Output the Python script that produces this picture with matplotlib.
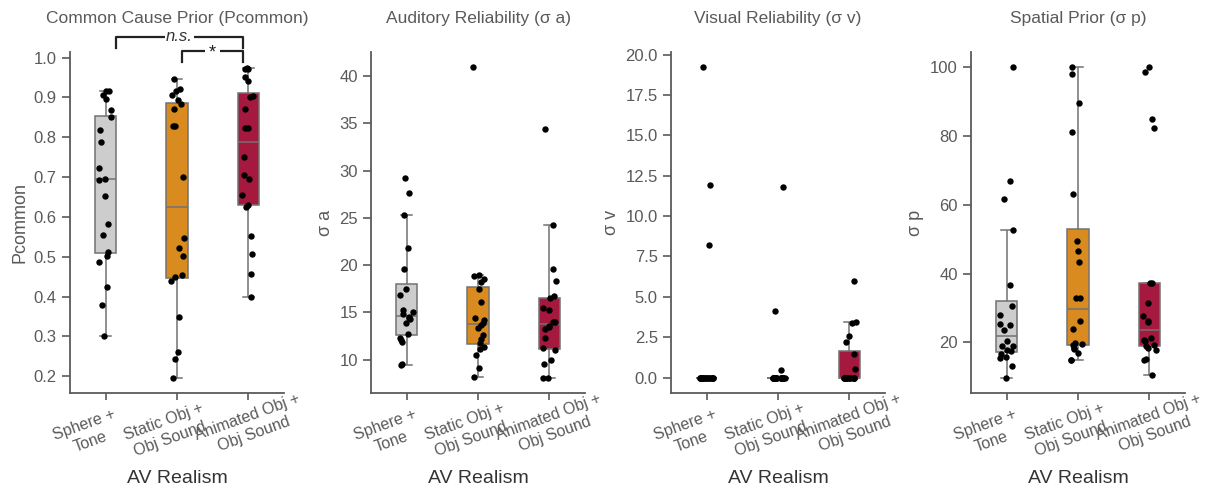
import numpy as np
import pandas as pd
import matplotlib

matplotlib.use("Agg")
import matplotlib.pyplot as plt
import matplotlib.transforms as mtransforms
import seaborn as sns

plt.rcParams["font.family"] = ["Liberation Sans", "DejaVu Sans"]

# ---------------------------------------------------------------- data
CONDITIONS = ["Sphere +\nTone", "Static Obj +\nObj Sound", "Animated Obj +\nObj Sound"]
COLORS = ["#cdcdcd", "#d98b1f", "#a6193f"]

pcommon_sphere = [0.915, 0.915, 0.905, 0.896, 0.868, 0.85, 0.817, 0.787, 0.724, 0.695,
                  0.693, 0.653, 0.582, 0.555, 0.513, 0.503, 0.486, 0.423, 0.379, 0.30]
pcommon_static = [0.945, 0.921, 0.917, 0.905, 0.893, 0.884, 0.871, 0.827, 0.827, 0.701,
                  0.548, 0.522, 0.503, 0.455, 0.45, 0.44, 0.349, 0.262, 0.243, 0.197]
pcommon_animated = [0.975, 0.97, 0.97, 0.95, 0.94, 0.903, 0.90, 0.871, 0.823, 0.823,
                    0.751, 0.705, 0.694, 0.655, 0.63, 0.625, 0.553, 0.508, 0.458, 0.398]

sigma_a_sphere = [29.2, 27.6, 25.3, 21.8, 19.6, 17.5, 16.8, 15.25, 15.0, 14.8,
                  14.5, 14.4, 14.3, 13.9, 12.7, 12.3, 12.1, 11.9, 9.5, 9.4]
sigma_a_static = [40.9, 18.9, 18.8, 18.5, 18.2, 17.5, 16.1, 14.4, 14.2, 13.9,
                  13.7, 13.3, 12.6, 12.2, 11.8, 11.3, 11.1, 10.5, 9.1, 8.2]
sigma_a_animated = [34.4, 24.2, 19.6, 18.3, 16.7, 16.5, 15.5, 15.2, 14.0, 14.0,
                    13.6, 13.4, 13.2, 12.3, 11.2, 11.0, 10.0, 9.5, 8.1, 8.1]

sigma_v_sphere = [19.2, 11.9, 8.2] + [0.0] * 17
sigma_v_static = [11.8, 4.1, 0.45] + [0.0] * 17
sigma_v_animated = [6.0, 3.45, 3.4, 2.6, 2.2, 1.45, 0.5] + [0.0] * 13

sigma_p_sphere = [100, 67.0, 61.8, 52.7, 36.6, 30.5, 27.9, 25.3, 25.1, 23.7,
                  20.3, 19.1, 18.9, 17.9, 17.5, 16.5, 15.8, 15.4, 13.2, 9.8]
sigma_p_static = [100, 98.1, 89.8, 81.2, 63.3, 49.5, 46.5, 43.3, 32.9, 32.9,
                  26.3, 24.0, 19.7, 19.5, 19.4, 18.3, 18.0, 16.9, 15.0, 14.8]
sigma_p_animated = [100, 98.8, 85.1, 82.3, 37.3, 37.3, 31.5, 27.6, 26.3, 25.9,
                    21.2, 20.8, 20.5, 19.4, 19.0, 18.5, 17.9, 15.3, 15.0, 10.6]

PANELS = [
    ("Common Cause Prior (Pcommon)", "Pcommon",
     [pcommon_sphere, pcommon_static, pcommon_animated], np.arange(0.2, 1.01, 0.1), "{:.1f}"),
    ("Auditory Reliability (σ a)", "σ a",
     [sigma_a_sphere, sigma_a_static, sigma_a_animated], np.arange(10, 41, 5), "{:.0f}"),
    ("Visual Reliability (σ v)", "σ v",
     [sigma_v_sphere, sigma_v_static, sigma_v_animated], np.arange(0, 20.1, 2.5), "{:.1f}"),
    ("Spatial Prior (σ p)", "σ p",
     [sigma_p_sphere, sigma_p_static, sigma_p_animated], np.arange(20, 101, 20), "{:.0f}"),
]

GREY = "#5a5a5a"
LINE = "#727272"

# ---------------------------------------------------------------- figure
W, H = 1220, 491
fig = plt.figure(figsize=(W / 100, H / 100), dpi=100)
lefts = [70, 371, 671, 971]
np.random.seed(3)

for k, (title, ylabel, groups, yticks, fmt) in enumerate(PANELS):
    ax = fig.add_axes([lefts[k] / W, (H - 393) / H, 214 / W, 341 / H])
    df = pd.DataFrame({
        "cond": np.repeat(CONDITIONS, [len(g) for g in groups]),
        "val": np.concatenate(groups),
    })
    sns.boxplot(data=df, x="cond", y="val", hue="cond", order=CONDITIONS,
                palette=COLORS, width=0.3, showfliers=False, linewidth=1.1,
                linecolor=LINE, saturation=1, legend=False, ax=ax)
    sns.stripplot(data=df, x="cond", y="val", order=CONDITIONS, color="black",
                  size=4.6, jitter=0.1, ax=ax, zorder=5)

    ax.set_xlim(-0.5, 2.5)
    ax.set_yticks(yticks)
    ax.set_yticklabels([fmt.format(v) for v in yticks])
    for s in ("top", "right"):
        ax.spines[s].set_visible(False)
    for s in ("left", "bottom"):
        ax.spines[s].set_color(GREY)
        ax.spines[s].set_linewidth(1.3)
    ax.tick_params(colors=GREY, labelsize=12, length=6, width=1.2)
    ax.tick_params(axis="x", labelsize=11.5, length=5)

    ax.set_xticks(range(3))
    ax.set_xticklabels(CONDITIONS, rotation=20, ha="left", rotation_mode="anchor",
                       multialignment="center", linespacing=1.3)
    offset = mtransforms.ScaledTranslation(-0.55, -0.24, fig.dpi_scale_trans)
    for lab in ax.get_xticklabels():
        lab.set_transform(lab.get_transform() + offset)

    ax.set_title(title, fontsize=12.5, color=GREY, pad=21)
    ax.set_ylabel(ylabel, fontsize=13, color=GREY)
    ax.set_xlabel("AV Realism", fontsize=14, color="#333333")
    ax.xaxis.set_label_coords(0.5, -0.225)

    if k == 0:
        tr = mtransforms.blended_transform_factory(ax.transData, ax.transAxes)
        # n.s. : Sphere vs Animated
        x0, x1 = 0.14, 1.93
        ax.plot([x0, x0, x1, x1], [1.012, 1.045, 1.045, 1.012], color="#222222",
                lw=1.6, transform=tr, clip_on=False)
        ax.text((x0 + x1) / 2, 1.045, "n.s.", style="italic", fontsize=12,
                ha="center", va="center", color="#333333", transform=tr,
                bbox=dict(facecolor="white", edgecolor="none", pad=1))
        # * : Static vs Animated
        x0, x1 = 1.07, 1.92
        ax.plot([x0, x0, x1, x1], [0.972, 1.004, 1.004, 0.972], color="#222222",
                lw=1.6, transform=tr, clip_on=False)
        ax.text((x0 + x1) / 2, 0.996, "*", fontsize=13,
                ha="center", va="center", color="#222222", transform=tr,
                bbox=dict(facecolor="white", edgecolor="none", pad=3))

fig.savefig("out.png", dpi=100, facecolor="white")
